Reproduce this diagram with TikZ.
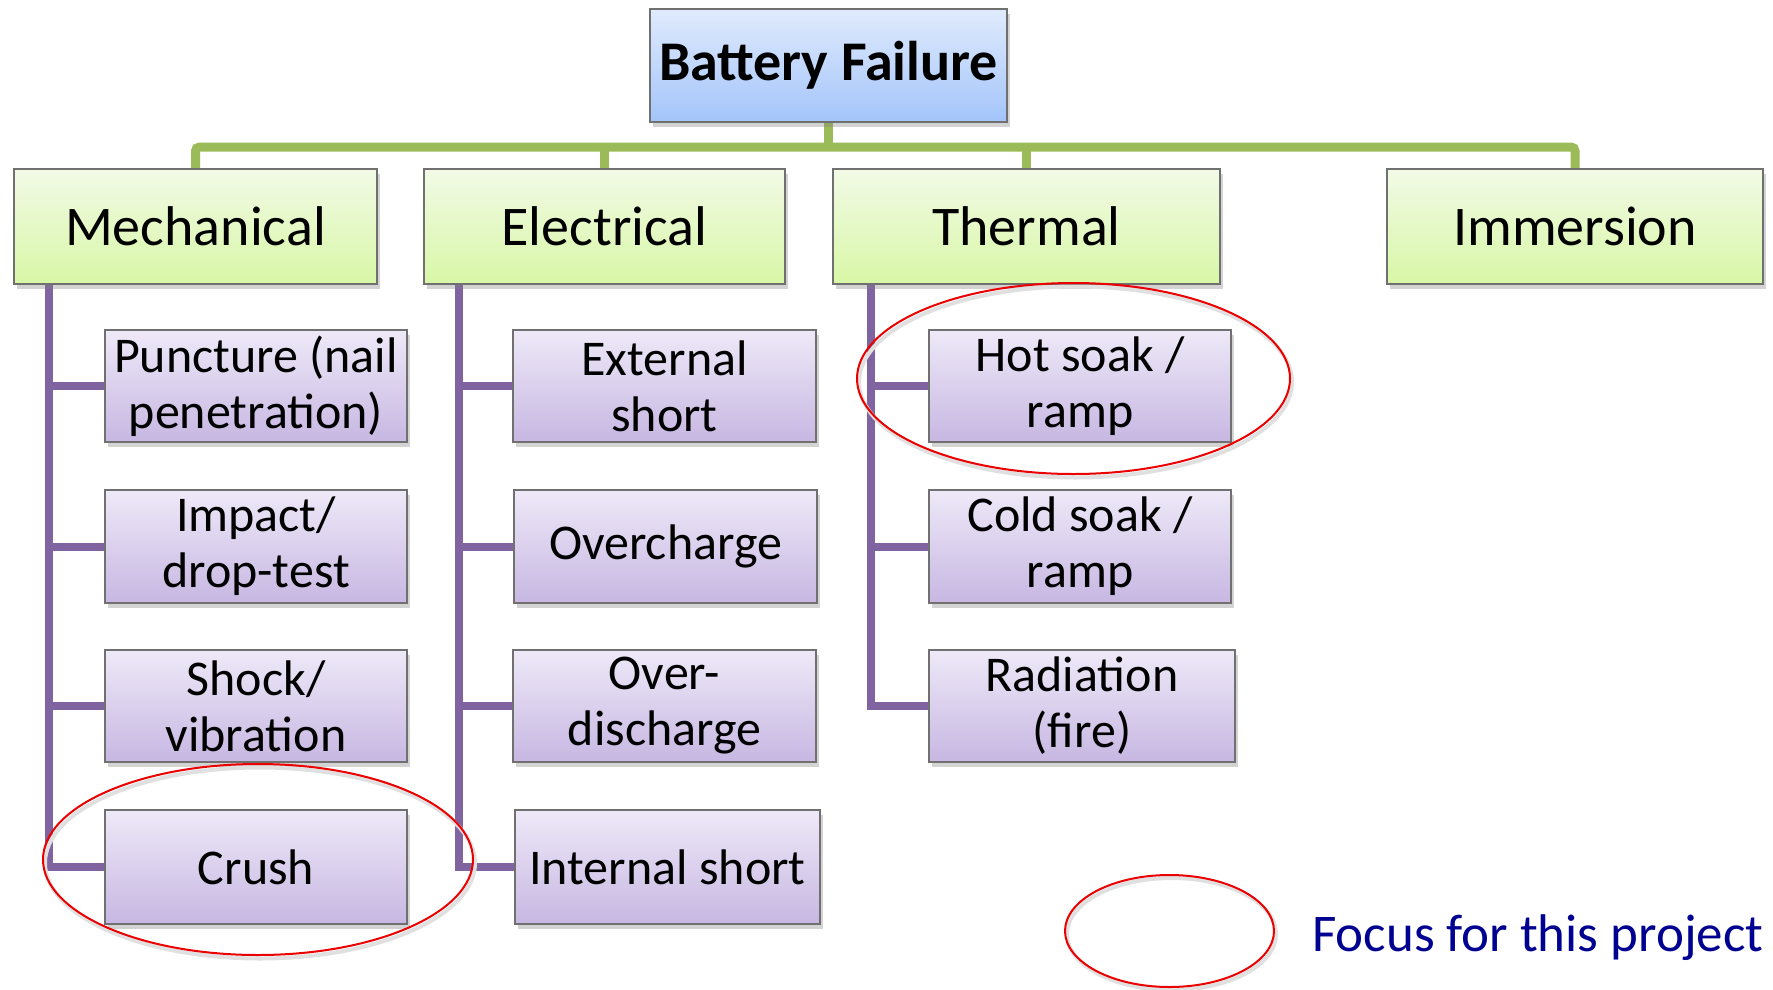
\documentclass[tikz,border=0pt]{standalone}
\usepackage{fontspec}
\setmainfont{Carlito}
\usetikzlibrary{shapes.geometric,shadows}
\definecolor{glinec}{RGB}{155,187,89}
\definecolor{plinec}{RGB}{128,100,162}
\definecolor{rootTop}{RGB}{224,235,253}
\definecolor{rootBot}{RGB}{163,196,250}
\definecolor{catTop}{RGB}{242,250,230}
\definecolor{catBot}{RGB}{216,247,166}
\definecolor{itTop}{RGB}{238,233,248}
\definecolor{itBot}{RGB}{199,183,226}
\definecolor{boxborder}{RGB}{112,112,112}
\definecolor{focusred}{RGB}{235,0,0}
\definecolor{legendblue}{RGB}{0,0,145}
\pgfdeclarelayer{background}
\pgfsetlayers{background,main}
\begin{document}
\begin{tikzpicture}[x=1pt,y=-1pt,
  box/.style={draw=boxborder, line width=1.5pt, inner sep=0pt, align=center,
    drop shadow={opacity=0.35, shadow xshift=3pt, shadow yshift=-5pt}},
  rootbox/.style={box, top color=rootTop, bottom color=rootBot, minimum width=357pt, minimum height=113pt,
    font=\fontsize{56pt}{60pt}\selectfont\bfseries},
  catbox/.style={box, top color=catTop, bottom color=catBot, minimum height=115pt,
    font=\fontsize{56pt}{62pt}\selectfont},
  itembox/.style={box, top color=itTop, bottom color=itBot, minimum height=112pt,
    font=\fontsize{50pt}{56pt}\selectfont},
  glink/.style={draw=glinec, line width=9pt},
  plink/.style={draw=plinec, line width=8pt},
  focus/.style={ellipse, draw=focusred, line width=2pt, inner sep=0pt},
  focusshadow/.style={ellipse, draw=black!12, line width=4pt, inner sep=0pt}
]
\useasboundingbox (0,0) rectangle (1773,989);

% root and categories
\node[rootbox] (root) at (828.5,65.5) {Battery Failure};
\node[catbox, minimum width=363pt] (mech) at (195.5,226.5) {Mechanical};
\node[catbox, minimum width=361pt] (elec) at (604.5,226.5) {Electrical};
\node[catbox, minimum width=387pt] (therm) at (1026.5,226.5) {Thermal};
\node[catbox, minimum width=376pt] (imm) at (1575,226.5) {Immersion};

% items
\node[itembox, minimum width=302pt] (m1) at (256,386) {Puncture (nail\\penetration)};
\node[itembox, minimum width=302pt, minimum height=113pt] (m2) at (256,546.5) {Impact/\\drop-test};
\node[itembox, minimum width=302pt] (m3) at (256,706) {Shock/\\vibration};
\node[itembox, minimum width=302pt, minimum height=114pt] (m4) at (256,867) {Crush};

\node[itembox, minimum width=303pt] (e1) at (664.5,386) {External\\short};
\node[itembox, minimum width=303pt, minimum height=113pt] (e2) at (665.5,546.5) {Overcharge};
\node[itembox, minimum width=303pt] (e3) at (664.5,706) {Over-\\discharge};
\node[itembox, minimum width=305pt, minimum height=114pt] (e4) at (667.5,867) {Internal short};

\node[itembox, minimum width=302pt] (t1) at (1080,386) {Hot soak /\\ramp};
\node[itembox, minimum width=302pt, minimum height=113pt] (t2) at (1080,546.5) {Cold soak /\\ramp};
\node[itembox, minimum width=306pt] (t3) at (1082,706) {Radiation\\(fire)};

% connectors, behind the boxes
\coordinate (bar) at (828.5,147);
\coordinate (mv) at (49,284);
\coordinate (ev) at (459,284);
\coordinate (tv) at (871,284);
\begin{pgfonlayer}{background}
\draw[glink] (root.south) -- (bar);
\draw[glink, rounded corners=4pt] (mech.north) |- (bar) -| (imm.north);
\draw[glink] (elec.north) -- (elec.north |- bar);
\draw[glink] (therm.north) -- (therm.north |- bar);

\draw[plink] (mv) |- (m4.west);
\draw[plink] (ev) |- (e4.west);
\draw[plink] (tv) |- (t3.west);
\foreach \n in {m1,m2,m3} \draw[plink] (mv |- \n.west) -- (\n.west);
\foreach \n in {e1,e2,e3} \draw[plink] (ev |- \n.west) -- (\n.west);
\foreach \n in {t1,t2} \draw[plink] (tv |- \n.west) -- (\n.west);
\end{pgfonlayer}

% focus ellipses
\node[focusshadow, minimum width=433pt, minimum height=191pt] (hotsh) at (1075.5,382) {};
\node[focus, minimum width=433pt, minimum height=191pt] (hotfocus) at (1073.5,378.5) {};
\node[focusshadow, minimum width=430pt, minimum height=191pt] (crushsh) at (260,863) {};
\node[focus, minimum width=430pt, minimum height=191pt] (crushfocus) at (258,859.5) {};
\node[focusshadow, minimum width=209pt, minimum height=112pt] (legsh) at (1171.5,934) {};
\node[focus, minimum width=209pt, minimum height=112pt] (legfocus) at (1169.5,931) {};

% legend text
\node[anchor=base west, inner sep=0pt, text=legendblue, font=\fontsize{53pt}{60pt}\selectfont] (legtext) at (1312,951) {Focus for this project};
\end{tikzpicture}
\end{document}
